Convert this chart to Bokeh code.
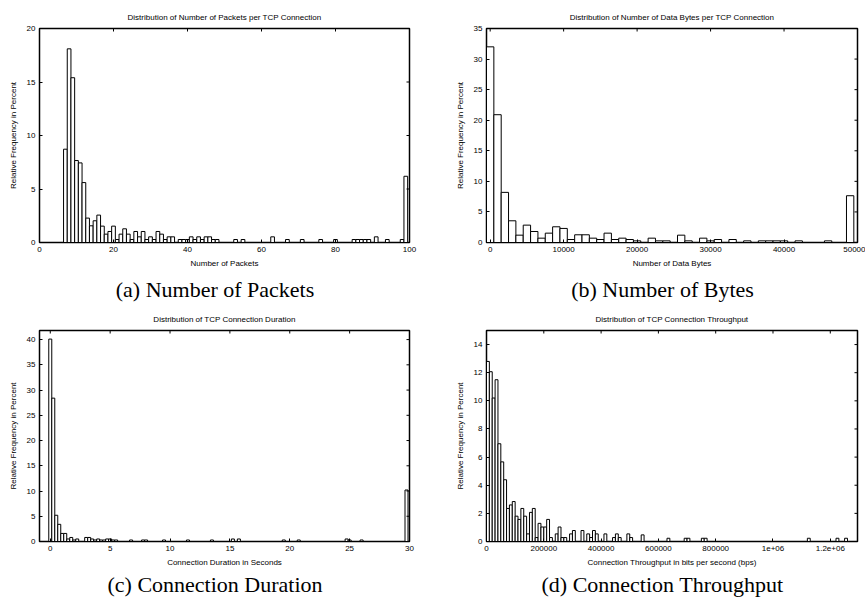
import math
from bokeh.plotting import figure
from bokeh.models import Range1d, FixedTicker, Title
from bokeh.layouts import column, row
from bokeh.embed import file_html
from bokeh.resources import INLINE

# ---------------- data ----------------
# (a) packets per connection, bin width 1
packets_bins = list(range(7, 100))
packets_pct = [8.72, 18.1, 15.4, 7.66, 7.44, 5.6, 2.28, 1.56, 2.03, 2.56,      # 7-16
               1.53, 0.78, 1.03, 1.53, 0.28, 0.78, 1.28, 0.78, 0.28, 1.03,     # 17-26
               0.53, 1.03, 0.28, 0.53, 0.28, 1.03, 0.78, 0.28, 0.53, 0.53,     # 27-36
               0.0, 0.28, 0.28, 0.28, 0.53, 0.28, 0.53, 0.28, 0.53, 0.53,      # 37-46
               0.28, 0.28, 0.0, 0.0, 0.0, 0.0, 0.28, 0.0, 0.28, 0.0,           # 47-56
               0.0, 0.0, 0.0, 0.0, 0.0, 0.0, 0.53, 0.0, 0.0, 0.0,              # 57-66
               0.28, 0.0, 0.0, 0.0, 0.28, 0.0, 0.0, 0.0, 0.0, 0.28,            # 67-76
               0.0, 0.0, 0.0, 0.28, 0.0, 0.0, 0.0, 0.0, 0.28, 0.28,            # 77-86
               0.28, 0.28, 0.28, 0.0, 0.53, 0.0, 0.0, 0.28, 0.0, 0.0,          # 87-96
               0.0, 0.28, 6.19]                                                # 97-99
packets_width = 1

# (b) data bytes per connection, bin width 1000
bytes_bins = [k * 1000 for k in range(50)]
bytes_pct = [32.0, 20.9, 8.2, 3.55, 1.2, 2.84, 1.8, 0.71, 1.53, 2.57,
             2.3, 0.49, 1.26, 1.26, 0.71, 0.49, 1.53, 0.49, 0.71, 0.49,
             0.27, 0.0, 0.71, 0.27, 0.27, 0.0, 1.2, 0.27, 0.0, 0.71,
             0.27, 0.49, 0.0, 0.49, 0.0, 0.27, 0.0, 0.27, 0.27, 0.27,
             0.27, 0.0, 0.27, 0.0, 0.0, 0.0, 0.27, 0.0, 0.0, 7.65]
bytes_width = 1000

# (c) connection duration, bin width 0.25 s (non-empty bins)
dur_bins = [0.0, 0.25, 0.5, 0.75, 1.0, 1.25, 1.5, 1.75, 2.0, 2.25,
            3.0, 3.25, 3.5, 3.75, 4.0, 4.25, 4.5, 4.75, 5.0, 5.25,
            5.5, 6.75, 7.75, 8.0, 9.5, 11.5, 13.5, 15.25, 15.75, 19.5,
            20.75, 24.75, 25.0, 26.0, 29.75]
dur_pct = [40.1, 28.4, 5.2, 3.4, 1.6, 1.6, 0.5, 0.8, 0.3, 0.5,
           0.8, 0.8, 0.5, 0.3, 0.5, 0.3, 0.3, 0.5, 0.5, 0.3,
           0.3, 0.3, 0.3, 0.3, 0.3, 0.3, 0.3, 0.5, 0.5, 0.3,
           0.3, 0.5, 0.3, 0.3, 10.2]
dur_width = 0.25

# (d) throughput, bin width 10000 bps (bin centres)
thr_bins = [5000 + k * 10000 for k in range(56)] + [635000, 695000, 705000, 755000, 765000,
                                                   1125000, 1225000, 1255000]
thr_pct = [12.8, 12.07, 10.2, 11.5, 6.95, 5.66, 4.39, 2.35, 2.6, 2.84,
           1.8, 1.57, 2.35, 1.8, 0.54, 2.07, 2.35, 0.28, 1.29, 1.03,
           1.03, 1.57, 0.28, 0.0, 0.54, 1.03, 0.28, 0.28, 0.0, 0.54,
           0.78, 0.0, 0.0, 0.78, 0.0, 0.54, 0.28, 0.78, 0.54, 0.0,
           0.0, 0.54, 0.0, 0.0, 0.28, 0.54, 0.28, 0.0, 0.0, 0.54,
           0.28, 0.0, 0.0, 0.0, 0.47, 0.0,
           0.23, 0.23, 0.23, 0.23, 0.23, 0.23, 0.23, 0.23]
thr_width = 10000

# ticks
ticks_a_x = [0, 20, 40, 60, 80, 100]
ticks_a_y = [0, 5, 10, 15, 20]
ticks_b_x = [0, 10000, 20000, 30000, 40000, 50000]
ticks_b_y = [0, 5, 10, 15, 20, 25, 30, 35]
ticks_c_x = [0, 5, 10, 15, 20, 25, 30]
ticks_c_y = [0, 5, 10, 15, 20, 25, 30, 35, 40]
ticks_d_x = [0, 200000, 400000, 600000, 800000, 1000000, 1200000]
tick_labels_d_x = ["0", "200000", "400000", "600000", "800000", "1e+06", "1.2e+06"]
ticks_d_y = [0, 2, 4, 6, 8, 10, 12, 14]

SANS = "Liberation Sans"
SERIF = "Liberation Serif"
YLABEL = "Relative Frequency in Percent"
CAP_PX = 22

# approximate Times advance widths (em/1000) to centre the captions
TIMES_W = {" ": 250, "(": 333, ")": 333, "a": 444, "b": 500, "c": 444, "d": 500,
           "e": 444, "f": 333, "g": 500, "h": 500, "i": 278, "k": 500, "m": 778,
           "n": 500, "o": 500, "p": 500, "r": 333, "s": 389, "t": 278, "u": 500,
           "y": 500, "B": 667, "C": 667, "D": 722, "N": 722, "P": 556, "T": 611}


def text_w(s, px):
    return sum(TIMES_W.get(ch, 500) for ch in s) / 1000.0 * px


def style_axis(ax, ticks, overrides=None, tick_standoff=4, label_standoff=4):
    ax.ticker = FixedTicker(ticks=ticks)
    ax.major_tick_in = 3
    ax.major_tick_out = 0
    ax.minor_tick_line_color = None
    ax.axis_line_color = "black"
    ax.major_tick_line_color = "black"
    ax.major_label_text_font = SANS
    ax.major_label_text_font_size = "8px"
    ax.major_label_text_color = "black"
    ax.major_label_standoff = tick_standoff
    ax.axis_label_text_font = SANS
    ax.axis_label_text_font_size = "8px"
    ax.axis_label_text_font_style = "normal"
    ax.axis_label_text_color = "black"
    ax.axis_label_standoff = label_standoff
    if overrides:
        ax.major_label_overrides = overrides


def panel(width, height, bl, br, bt, bb, xr, yr, xt, yt, title, xlabel, caption,
          cap_standoff, bins, vals, bw, xover=None):
    p = figure(width=width, height=height, x_range=Range1d(*xr), y_range=Range1d(*yr),
               output_backend="svg", toolbar_location=None,
               min_border_left=bl, min_border_right=br, min_border_top=bt,
               min_border_bottom=bb)
    p.background_fill_color = "white"
    p.border_fill_color = "white"
    p.outline_line_color = "black"
    p.outline_line_width = 1.5
    p.xgrid.visible = False
    p.ygrid.visible = False

    p.title.text = title
    p.title.align = "center"
    p.title.text_font = SANS
    p.title.text_font_size = "8px"
    p.title.text_font_style = "normal"
    p.title.text_color = "black"
    p.title.standoff = 13

    xa = p.xaxis[0]
    ya = p.yaxis[0]
    style_axis(xa, xt, xover, 4, 4)
    style_axis(ya, yt, None, 4, 6)
    xa.axis_label = xlabel
    ya.axis_label = YLABEL

    p.vbar(x=bins, top=vals, width=bw, bottom=0, fill_color="white",
           line_color="black", line_width=1)

    # mirrored inward ticks on the top and right frame edges
    p.scatter(x=xt, y=[yr[1]] * len(xt), marker="dash", angle=math.pi / 2, size=6,
              line_color="black", line_width=1)
    p.scatter(x=[xr[1]] * len(yt), y=yt, marker="dash", size=6,
              line_color="black", line_width=1)

    fw = width - bl - br
    off = fw / 2 - 9.5 - text_w(caption, CAP_PX) / 2
    p.add_layout(Title(text=caption, align="left", offset=off, standoff=cap_standoff,
                       text_font=SERIF, text_font_size=f"{CAP_PX}px",
                       text_font_style="normal", text_color="black"), "below")
    return p


pa = panel(429, 306, 39, 20, 28, 64, (0, 100), (0, 20), ticks_a_x, ticks_a_y,
           "Distribution of Number of Packets per TCP Connection", "Number of Packets",
           "(a) Number of Packets", 8, packets_bins, packets_pct, packets_width)
pb = panel(436, 306, 57, 8, 28, 64, (-500, 50000), (0, 35), ticks_b_x, ticks_b_y,
           "Distribution of Number of Data Bytes per TCP Connection", "Number of Data Bytes",
           "(b) Number of Bytes", 8, bytes_bins, bytes_pct, bytes_width)
pc = panel(429, 292, 39, 20, 22, 57, (-0.9, 30), (0, 41.8), ticks_c_x, ticks_c_y,
           "Distribution of TCP Connection Duration", "Connection Duration in Seconds",
           "(c) Connection Duration", 1, dur_bins, dur_pct, dur_width)
pd = panel(436, 292, 57, 8, 22, 57, (0, 1295000), (0, 15), ticks_d_x, ticks_d_y,
           "Distribution of TCP Connection Throughput",
           "Connection Throughput in bits per second (bps)",
           "(d) Connection Throughput", 1, thr_bins, thr_pct, thr_width,
           xover=dict(zip(ticks_d_x, tick_labels_d_x)))

layout = column(row(pa, pb), row(pc, pd))
open("out.html", "w").write(file_html(layout, INLINE))
